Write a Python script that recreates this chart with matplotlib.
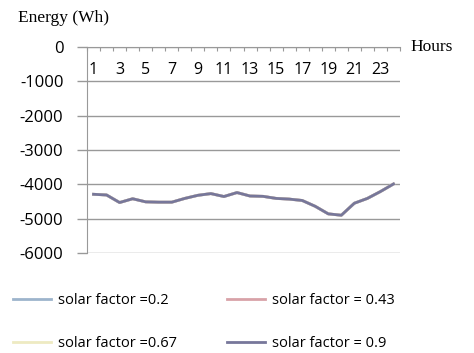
import matplotlib.pyplot as plt
import numpy as np

plt.rcParams["axes.unicode_minus"] = False

hours = list(range(1, 25))
tick_hours = list(range(1, 24, 2))

# the four series lie on top of each other in the picture
sf_02 = [-4290, -4310, -4530, -4420, -4510, -4520, -4520, -4410, -4320, -4270, -4355, -4240,
         -4340, -4350, -4410, -4430, -4470, -4640, -4860, -4900, -4550, -4410, -4210, -3990]
sf_043 = list(sf_02)
sf_067 = list(sf_02)
sf_09 = list(sf_02)

labels = ["solar factor =0.2", "solar factor = 0.43", "solar factor =0.67", "solar factor = 0.9"]
colors = ["#9db4cc", "#d8a2a8", "#eeeac2", "#77779a"]

fig = plt.figure(figsize=(4.74, 3.53), dpi=100)
ax = fig.add_axes([87 / 474, 1 - 253 / 353, 313 / 474, 206 / 353])

lines = []
for vals, lab, col in zip([sf_02, sf_043, sf_067, sf_09], labels, colors):
    ln, = ax.plot(hours, vals, color=col, lw=2, label=lab)
    lines.append(ln)

ax.set_xlim(0.5, 24.5)
ax.set_ylim(-6000, 0)
ax.set_yticks(np.arange(-6000, 1, 1000))
ax.yaxis.grid(True, color="#999999", lw=1)
ax.set_axisbelow(True)

ax.xaxis.set_ticks_position("top")
ax.set_xticks(np.arange(0.5, 25, 1))
ax.tick_params(axis="x", direction="in", length=3, color="#999999", labeltop=False)
ax.tick_params(axis="y", direction="out", length=7, width=1, color="#999999",
               labelsize=12, pad=10)
for lab in ax.get_yticklabels():
    lab.set_family("Open Sans")

for s in ["right", "bottom"]:
    ax.spines[s].set_visible(False)
for s in ["left", "top"]:
    ax.spines[s].set_color("#999999")

for h in tick_hours:
    ax.text(h, -680, str(h), ha="center", va="center", fontsize=11.5, family="Open Sans")

fig.text(18 / 474, 1 - 18 / 353, "Energy (Wh)", family="Liberation Serif", fontsize=12.5,
         va="center", ha="left")
fig.text(410 / 474, 1 - 47 / 353, "Hours", family="Liberation Serif", fontsize=12.5,
         va="center", ha="left")

order = [0, 2, 1, 3]
fig.legend([lines[i] for i in order], [labels[i] for i in order], ncol=2,
           loc="upper left", bbox_to_anchor=(0.0, 1 - 280 / 353), frameon=False,
           handlelength=2.6, handletextpad=0.5, labelspacing=1.9, columnspacing=3.4,
           prop={"family": "Open Sans", "size": 10.5})

fig.savefig("out.png", dpi=100)
